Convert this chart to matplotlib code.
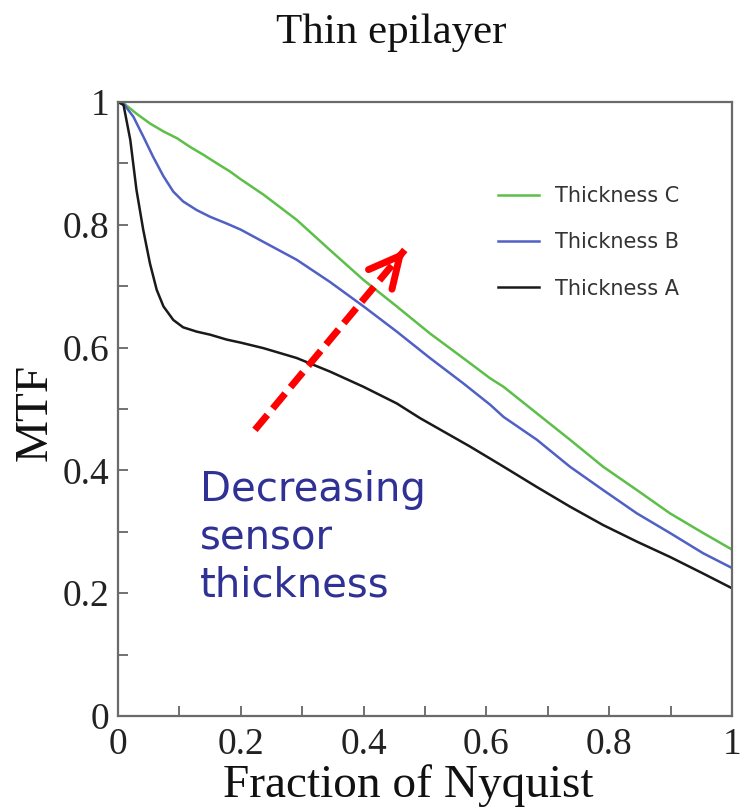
import matplotlib.pyplot as plt
from matplotlib.ticker import FixedLocator, MultipleLocator

# Thickness C (green)
c_x = [0, 0.009, 0.03, 0.052, 0.074, 0.096, 0.117, 0.139, 0.161, 0.182, 0.2, 0.237, 0.291,
       0.345, 0.4, 0.454, 0.508, 0.562, 0.606, 0.628, 0.682, 0.736, 0.79, 0.845, 0.899, 0.953, 1.0]
c_y = [1.0, 0.998, 0.981, 0.965, 0.952, 0.941, 0.927, 0.914, 0.900, 0.887, 0.874, 0.849, 0.808,
       0.759, 0.710, 0.667, 0.623, 0.583, 0.550, 0.536, 0.493, 0.450, 0.406, 0.368, 0.330, 0.298, 0.271]

# Thickness B (blue)
b_x = [0, 0.009, 0.025, 0.041, 0.057, 0.074, 0.09, 0.106, 0.128, 0.15, 0.177, 0.2, 0.237, 0.291,
       0.345, 0.4, 0.454, 0.508, 0.562, 0.606, 0.628, 0.682, 0.736, 0.79, 0.845, 0.899, 0.953, 1.0]
b_y = [1.0, 0.997, 0.976, 0.944, 0.911, 0.879, 0.854, 0.838, 0.824, 0.813, 0.802, 0.792, 0.772, 0.743,
       0.707, 0.667, 0.626, 0.583, 0.542, 0.507, 0.487, 0.450, 0.406, 0.368, 0.330, 0.298, 0.265, 0.241]

# Thickness A (black)
a_x = [0, 0.009, 0.02, 0.03, 0.041, 0.052, 0.063, 0.074, 0.09, 0.106, 0.128, 0.15, 0.177, 0.2, 0.237,
       0.291, 0.345, 0.4, 0.454, 0.492, 0.573, 0.628, 0.682, 0.736, 0.79, 0.845, 0.899, 0.953, 1.0]
a_y = [1.0, 0.995, 0.938, 0.857, 0.792, 0.737, 0.694, 0.667, 0.645, 0.633, 0.626, 0.621, 0.613, 0.608, 0.599,
       0.583, 0.561, 0.536, 0.509, 0.485, 0.439, 0.406, 0.373, 0.341, 0.311, 0.284, 0.259, 0.232, 0.208]

tick_vals = [0, 0.2, 0.4, 0.6, 0.8, 1.0]
tick_labels = ['0', '0.2', '0.4', '0.6', '0.8', '1']

# arrow "decreasing sensor thickness" (data coords)
arrow_start = (0.223, 0.466)
arrow_tip = (0.467, 0.759)

serif = ['Liberation Serif', 'DejaVu Serif']

fig = plt.figure(figsize=(7.4, 8.08), dpi=100)
ax = fig.add_axes([0.1595, 0.1139, 0.8297, 0.7599])

ax.plot(c_x, c_y, color='#5cbf48', lw=1.8, label='Thickness C')
ax.plot(b_x, b_y, color='#5060c4', lw=1.8, label='Thickness B')
ax.plot(a_x, a_y, color='#1a1a1a', lw=1.8, label='Thickness A')

ax.set_xlim(0, 1)
ax.set_ylim(0, 1)
ax.xaxis.set_major_locator(FixedLocator(tick_vals))
ax.yaxis.set_major_locator(FixedLocator(tick_vals))
ax.set_xticklabels(tick_labels, family=serif, fontsize=27, color='#222')
ax.set_yticklabels(tick_labels, family=serif, fontsize=27, color='#222')
ax.xaxis.set_minor_locator(MultipleLocator(0.1))
ax.yaxis.set_minor_locator(MultipleLocator(0.1))
ax.tick_params(which='both', direction='in', length=7, width=1.3, color='#666')
ax.tick_params(axis='x', pad=8)
ax.tick_params(axis='y', pad=6)
for s in ax.spines.values():
    s.set_color('#6a6a6a')
    s.set_linewidth(1.6)

leg = ax.legend(loc='upper left', bbox_to_anchor=(0.588, 0.893), frameon=False,
                prop={'family': 'DejaVu Sans', 'size': 15}, handlelength=2.0,
                handletextpad=0.75, labelspacing=1.25)
for t in leg.get_texts():
    t.set_color('#333333')

# dashed red arrow
ax.plot([arrow_start[0], arrow_tip[0]], [arrow_start[1], arrow_tip[1]], color='red', lw=5,
        dashes=(2.8, 1.2), solid_capstyle='butt')
ax.annotate('', xy=arrow_tip,
            xytext=(arrow_tip[0] - 0.04 * (arrow_tip[0] - arrow_start[0]),
                    arrow_tip[1] - 0.04 * (arrow_tip[1] - arrow_start[1])),
            arrowprops=dict(arrowstyle='->,head_length=1.0,head_width=0.5', color='red',
                            lw=5, mutation_scale=22, shrinkA=0, shrinkB=0))

ax.text(0.134, 0.40, 'Decreasing\nsensor\nthickness', color='#2f3194', fontsize=29,
        family='DejaVu Sans', va='top', ha='left', linespacing=1.25)

fig.text(391 / 740, 1 - 43 / 808, 'Thin epilayer', family=serif, fontsize=31,
         ha='center', va='baseline', color='#111')
fig.text(408 / 740, 1 - 797 / 808, 'Fraction of Nyquist', family=serif, fontsize=34,
         ha='center', va='baseline', color='#111')
fig.text(35 / 740, 1 - 412 / 808, 'MTF', family=serif, fontsize=34, rotation=90,
         ha='center', va='center', color='#111')

fig.savefig('out.png', dpi=100)
